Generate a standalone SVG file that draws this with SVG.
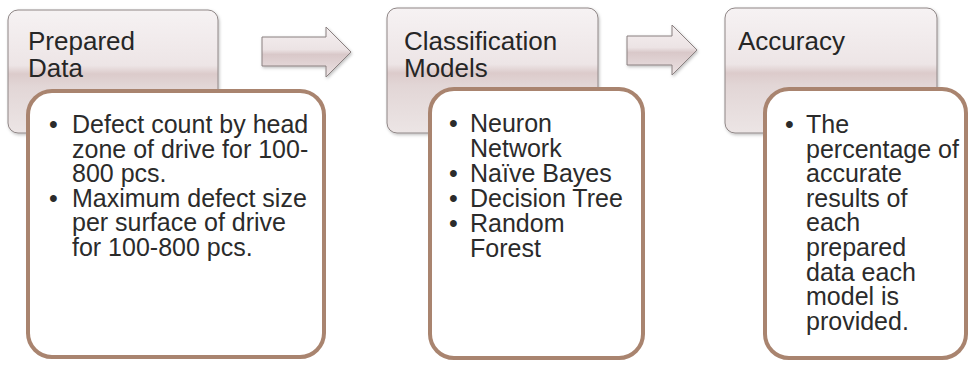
<svg xmlns="http://www.w3.org/2000/svg" width="969" height="365" viewBox="0 0 969 365">
<defs>
<linearGradient id="hdr" x1="0" y1="0" x2="0" y2="1">
<stop offset="0" stop-color="#f6f2f3"/>
<stop offset="0.45" stop-color="#ede5e6"/>
<stop offset="0.52" stop-color="#dccbcb"/>
<stop offset="0.62" stop-color="#e2d6d6"/>
<stop offset="1" stop-color="#ece5e5"/>
</linearGradient>
<linearGradient id="arr" x1="0" y1="0" x2="0" y2="1">
<stop offset="0" stop-color="#f5f0f1"/>
<stop offset="0.45" stop-color="#ece3e4"/>
<stop offset="0.55" stop-color="#d9c8c9"/>
<stop offset="1" stop-color="#ece3e4"/>
</linearGradient>
<filter id="sh" x="-10%" y="-10%" width="120%" height="120%">
<feDropShadow dx="1" dy="1.5" stdDeviation="1.5" flood-color="#000" flood-opacity="0.25"/>
</filter>
</defs>
<style>
.hdr{fill:url(#hdr);stroke:#8f8686;stroke-width:1;filter:url(#sh)}
.box{fill:#ffffff;stroke:#a9846f;stroke-width:4}
.arrow{fill:url(#arr);stroke:#8a8080;stroke-width:1;filter:url(#sh)}
.ht{font-family:"Liberation Sans",Arial,sans-serif;font-size:26px;fill:#262626}
.bt{font-family:"Liberation Sans",Arial,sans-serif;font-size:25px;fill:#2b2b2b}
</style>
<rect width="969" height="365" fill="#ffffff"/>
<g id="connectors">
<path class="arrow" d="M262,37 H326 V27 L351,52 L326,77 V66 H262 Z"/>
<path class="arrow" d="M627,36 H672 V25 L697,50 L672,75 V65 H627 Z"/>
</g>
<g id="node-prepared">
<rect class="hdr" x="8" y="10" width="210" height="123" rx="10"/>
<text class="ht" x="28" y="50">Prepared</text>
<text class="ht" x="28" y="77">Data</text>
<rect class="box" x="28" y="91" width="296" height="266" rx="24"/>
<g class="bt">
<text x="49" y="133">•</text><text x="72" y="133">Defect count by head</text>
<text x="72" y="157.5">zone of drive for 100-</text>
<text x="72" y="182">800 pcs.</text>
<text x="49" y="206.5">•</text><text x="72" y="206.5">Maximum defect size</text>
<text x="72" y="231">per surface of drive</text>
<text x="72" y="255.5">for 100-800 pcs.</text>
</g>
</g>
<g id="node-models">
<rect class="hdr" x="387" y="8" width="211" height="125" rx="10"/>
<text class="ht" x="404" y="50">Classification</text>
<text class="ht" x="404" y="77">Models</text>
<rect class="box" x="430" y="89" width="213" height="269" rx="24"/>
<g class="bt">
<text x="449" y="132">•</text><text x="470" y="132">Neuron</text>
<text x="470" y="157">Network</text>
<text x="449" y="182">•</text><text x="470" y="182">Naïve Bayes</text>
<text x="449" y="206.5">•</text><text x="470" y="206.5">Decision Tree</text>
<text x="449" y="232">•</text><text x="470" y="232">Random</text>
<text x="470" y="257">Forest</text>
</g>
</g>
<g id="node-accuracy">
<rect class="hdr" x="725" y="8" width="212" height="125" rx="10"/>
<text class="ht" x="738" y="50">Accuracy</text>
<rect class="box" x="765" y="89" width="201" height="269" rx="24"/>
<g class="bt">
<text x="785" y="133">•</text><text x="806" y="133">The</text>
<text x="806" y="157.6">percentage of</text>
<text x="806" y="182.2">accurate</text>
<text x="806" y="206.8">results of</text>
<text x="806" y="231.4">each</text>
<text x="806" y="256">prepared</text>
<text x="806" y="280.6">data each</text>
<text x="806" y="305.2">model is</text>
<text x="806" y="329.8">provided.</text>
</g>
</g>
</svg>
